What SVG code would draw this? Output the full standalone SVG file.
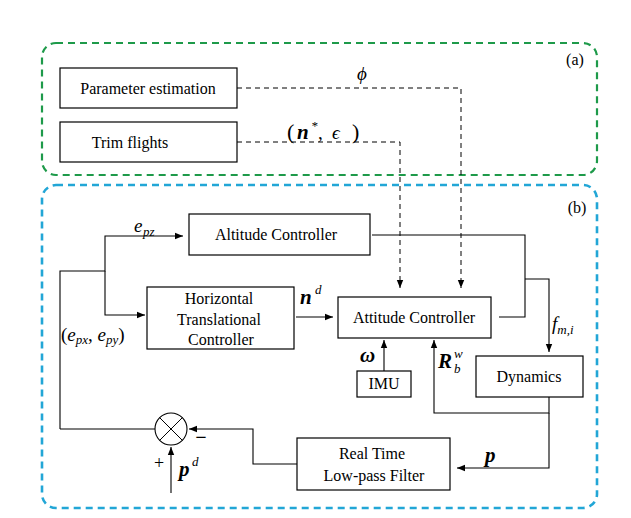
<svg xmlns="http://www.w3.org/2000/svg" width="631" height="518" viewBox="0 0 631 518">
<defs>
<marker id="ar" viewBox="0 0 10 10" refX="10" refY="5" markerWidth="8" markerHeight="8" markerUnits="userSpaceOnUse" orient="auto"><path d="M0,1 L10,5 L0,9 Z" fill="#000"/></marker>
<style>
.b{fill:#fff;stroke:#000;stroke-width:1.2}
.t{font-family:"Liberation Serif","Times New Roman","DejaVu Serif",serif;font-size:16px;text-anchor:middle;fill:#000}
.m{font-family:"Liberation Serif","Times New Roman","DejaVu Serif",serif;font-size:19px;font-style:italic;fill:#000}
.mb{font-family:"Liberation Serif","Times New Roman","DejaVu Serif",serif;font-size:21px;font-style:italic;font-weight:bold;fill:#000}
.c{fill:none;stroke:#000;stroke-width:1.1}
.d{fill:none;stroke:#000;stroke-width:1;stroke-dasharray:5,4}
</style>
</defs>
<rect width="631" height="518" fill="#fff"/>
<rect x="42" y="43" width="555" height="132" rx="14" fill="none" stroke="#1e9a4a" stroke-width="2.2" stroke-dasharray="7,5"/>
<rect x="42" y="185" width="555" height="323" rx="14" fill="none" stroke="#22a6d6" stroke-width="2.6" stroke-dasharray="7,5"/>
<text x="575" y="65" class="t">(a)</text>
<text x="577" y="213" class="t">(b)</text>
<g id="param"><rect class="b" x="60" y="68" width="177" height="40"/><text x="148" y="94" class="t">Parameter estimation</text></g>
<g id="trim"><rect class="b" x="60" y="122" width="177" height="40"/><text x="130" y="148" class="t">Trim flights</text></g>
<g id="alt"><rect class="b" x="189" y="214" width="181" height="41"/><text x="276" y="240" class="t">Altitude Controller</text></g>
<g id="htc"><rect class="b" x="147" y="287" width="147" height="62"/><text x="219" y="304" class="t">Horizontal</text><text x="219" y="325" class="t">Translational</text><text x="221" y="345" class="t">Controller</text></g>
<g id="att"><rect class="b" x="338" y="297" width="153" height="41"/><text x="414" y="323" class="t">Attitude Controller</text></g>
<g id="imu"><rect class="b" x="357" y="371" width="54" height="26"/><text x="384" y="389" class="t">IMU</text></g>
<g id="dyn"><rect class="b" x="476" y="356" width="107" height="41"/><text x="529" y="382" class="t">Dynamics</text></g>
<g id="filt"><rect class="b" x="297" y="438" width="153" height="52"/><text x="372" y="459" class="t">Real Time</text><text x="374" y="481" class="t">Low-pass Filter</text></g>
<g id="sum"><circle cx="171" cy="429" r="16" fill="#fff" stroke="#000" stroke-width="1.1"/><path d="M159.7,417.7 L182.3,440.3 M182.3,417.7 L159.7,440.3" stroke="#000" stroke-width="1"/></g>
<g id="connectors">
<path class="d" d="M237,88 H461 V288" marker-end="url(#ar)"/>
<path class="d" d="M237,142 H400 V288" marker-end="url(#ar)"/>
<path class="c" d="M60,429 V271 H105 V236 H183" marker-end="url(#ar)"/>
<path class="c" d="M105,271 V315 H145" marker-end="url(#ar)"/>
<path class="c" d="M296,317 H333" marker-end="url(#ar)"/>
<path class="c" d="M372,235 H525 V317 H499"/>
<path class="c" d="M525,279 H549 V352" marker-end="url(#ar)"/>
<path class="c" d="M384,371 V340" marker-end="url(#ar)"/>
<path class="c" d="M549,397 V413 H434 V340" marker-end="url(#ar)"/>
<path class="c" d="M549,413 V468 H457" marker-end="url(#ar)"/>
<path class="c" d="M297,464 H253 V429 H189" marker-end="url(#ar)"/>
<path class="c" d="M155,429 H60"/>
<path class="c" d="M171,493 V447" marker-end="url(#ar)"/>
</g>
<text x="357" y="80" class="m">ϕ</text>
<text x="287" y="139" class="m" style="font-style:normal;font-size:22px">(</text><text x="297" y="139" class="mb">n</text><text x="311" y="130" class="m" style="font-size:13px">*</text><text x="318" y="139" class="m" style="font-style:normal">,</text><text x="332" y="139" class="m">ϵ</text><text x="352" y="139" class="m" style="font-style:normal;font-size:22px">)</text>
<text x="134" y="232" class="m">e</text><text x="143" y="236" class="m" style="font-size:13px">pz</text>
<text x="300" y="304" class="mb">n</text><text x="315" y="294" class="m" style="font-size:13px">d</text>
<text x="61" y="341" class="m"><tspan font-style="normal">(</tspan>e<tspan font-size="13" dy="3">px</tspan><tspan dy="-3" font-style="normal">, </tspan>e<tspan font-size="13" dy="3">py</tspan><tspan dy="-3" font-style="normal">)</tspan></text>
<text x="552" y="330" class="m">f<tspan font-size="13" dy="4">m,i</tspan></text>
<text x="360" y="362" class="mb">ω</text>
<text x="438" y="368" class="mb">R</text><text x="454" y="373" class="m" style="font-size:13px">b</text><text x="454" y="358" class="m" style="font-size:13px">w</text>
<text x="485" y="462" class="mb">p</text>
<text x="179" y="476" class="mb">p</text><text x="192" y="466" class="m" style="font-size:13px">d</text>
<text x="159" y="469" class="t" style="font-size:18px">+</text>
<text x="201" y="444" class="t" style="font-size:20px;font-weight:bold">−</text>
</svg>
